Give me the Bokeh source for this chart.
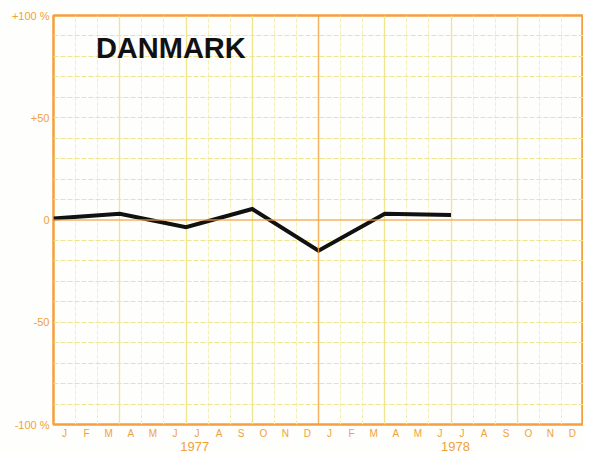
from bokeh.plotting import figure
from bokeh.models import (FixedTicker, LinearAxis, Grid, Span, Label, Range1d)
from bokeh.embed import file_html
from bokeh.resources import INLINE

# ---- data ----
month_pos = [0, 3, 6, 9, 12, 15, 18]          # months since Jan 1977 (quarterly points)
change_pct = [0.7, 3.0, -3.5, 5.4, -15.0, 3.0, 2.5]

month_letters = ["J", "F", "M", "A", "M", "J", "J", "A", "S", "O", "N", "D"] * 2
year_labels = ["1977", "1978"]
year_ticks = [6.4, 18.2]
y_ticks = [-100, -50, 0, 50, 100]
y_tick_labels = ["-100 %", "-50", "0", "+50", "+100 %"]
title_text = "DANMARK"

ORANGE = "#F4A03C"
LABEL = "#F0A23A"
YELLOW = "#EFE58C"
YELLOW_LIGHT = "#F5EFB4"

p = figure(width=583, height=453, output_backend="svg", toolbar_location=None,
           x_range=Range1d(0, 24), y_range=Range1d(-100, 100),
           min_border_left=53, min_border_right=0, min_border_top=15,
           min_border_bottom=0, background_fill_color="#FEFEFC",
           border_fill_color="#FEFEFC")

p.outline_line_color = ORANGE
p.outline_line_width = 2.5

# month axis
xa = p.xaxis[0]
month_ticks = [i + 0.5 for i in range(24)]
xa.ticker = FixedTicker(ticks=month_ticks)
xa.major_label_overrides = {t: month_letters[i] for i, t in enumerate(month_ticks)}
xa.major_tick_line_color = None
xa.minor_tick_line_color = None
xa.major_tick_out = 0
xa.major_tick_in = 0
xa.minor_tick_out = 0
xa.axis_line_color = None
xa.major_label_text_color = LABEL
xa.major_label_text_font = "Liberation Sans"
xa.major_label_text_font_size = "10px"
xa.major_label_standoff = 3

# year axis
ya2 = LinearAxis(ticker=FixedTicker(ticks=year_ticks),
                 major_label_overrides={t: year_labels[i] for i, t in enumerate(year_ticks)},
                 major_tick_line_color=None, minor_tick_line_color=None,
                 major_tick_out=0, major_tick_in=0, minor_tick_out=0,
                 axis_line_color=None, major_label_text_color=LABEL,
                 major_label_text_font="Liberation Sans",
                 major_label_text_font_size="13px", major_label_standoff=0)
p.add_layout(ya2, "below")

# y axis
ya = p.yaxis[0]
ya.ticker = FixedTicker(ticks=y_ticks)
ya.major_label_overrides = {t: y_tick_labels[i] for i, t in enumerate(y_ticks)}
ya.major_tick_line_color = None
ya.minor_tick_line_color = None
ya.major_tick_out = 0
ya.major_tick_in = 0
ya.minor_tick_out = 0
ya.axis_line_color = None
ya.major_label_text_color = LABEL
ya.major_label_text_font = "Liberation Sans"
ya.major_label_text_font_size = "11px"
ya.major_label_standoff = 4

# grids
p.xgrid.ticker = FixedTicker(ticks=[i for i in range(1, 24) if i % 3 != 0])
p.xgrid.grid_line_color = YELLOW_LIGHT
p.xgrid.grid_line_dash = "4 2"
p.xgrid.grid_line_width = 1
p.ygrid.ticker = FixedTicker(ticks=[v for v in range(-90, 100, 10) if v != 0])
p.ygrid.grid_line_color = YELLOW
p.ygrid.grid_line_dash = "5 2"
p.ygrid.grid_line_width = 1

qgrid = Grid(dimension=0, ticker=FixedTicker(ticks=[3, 6, 9, 15, 18, 21]),
             grid_line_color=YELLOW, grid_line_width=1.3)
p.add_layout(qgrid)

p.add_layout(Span(location=0, dimension="width", line_color=ORANGE,
                  line_width=1.5, line_alpha=0.8))
p.add_layout(Span(location=12, dimension="height", line_color=ORANGE,
                  line_width=1.5, line_alpha=0.8))

# data line
p.line(month_pos, change_pct, line_color="#111111", line_width=4,
       line_join="miter")

p.add_layout(Label(x=1.92, y=76.5, text=title_text, text_font="Liberation Sans",
                   text_font_style="bold", text_font_size="29px",
                   text_color="#111111"))

open("out.html", "w").write(file_html(p, INLINE))
